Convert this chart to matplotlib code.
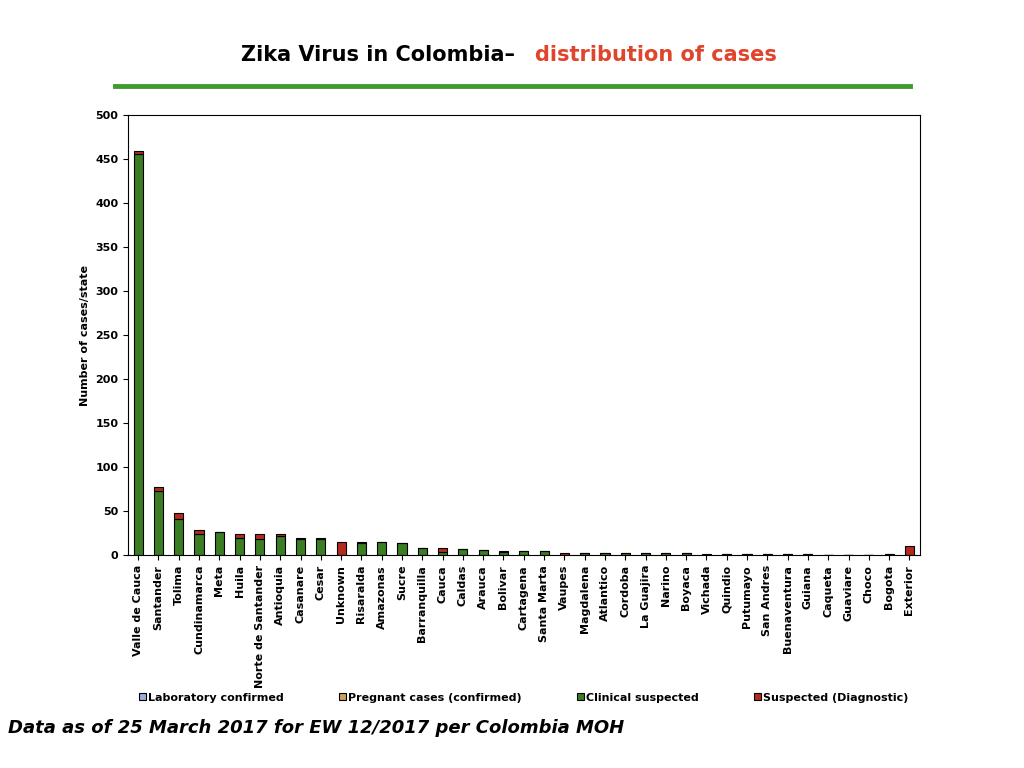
import matplotlib
matplotlib.use("Agg")
import matplotlib.pyplot as plt
import numpy as np

states = ["Valle de Cauca","Santander","Tolima","Cundinamarca","Meta","Huila","Norte de Santander",
          "Antioquia","Casanare","Cesar","Unknown","Risaralda","Amazonas","Sucre","Barranquilla","Cauca",
          "Caldas","Arauca","Bolivar","Cartagena","Santa Marta","Vaupes","Magdalena","Atlantico","Cordoba",
          "La Guajira","Narino","Boyaca","Vichada","Quindio","Putumayo","San Andres","Buenaventura","Guiana",
          "Caqueta","Guaviare","Choco","Bogota","Exterior"]
lab_confirmed = [0]*39
pregnant_confirmed = [0]*39
clinical_suspected = [456,73,41,24,26,20,19,22,18,19,0,14,15,14,8,4,7,6,4,5,5,0,3,3,3,3,3,3,0,2,2,1,1,1,0,0,0,1,0]
suspected_diag = [3,5,7,5,0,4,5,2,2,1,15,1,0,0,0,4,0,0,1,0,0,3,0,0,0,0,0,0,2,0,0,0,0,0,0,0,0,0,10]

fig = plt.figure(figsize=(10.24,7.68), dpi=100)
ax = fig.add_axes([0.125,0.277,0.773,0.573])
x = np.arange(len(states))
a = np.array(lab_confirmed); b = np.array(pregnant_confirmed)
c = np.array(clinical_suspected); d = np.array(suspected_diag)
w = 0.45
kw = dict(width=w, edgecolor="black", linewidth=0.8)
ax.bar(x, a, color="#9aaedb", label="Laboratory confirmed", **kw)
ax.bar(x, b, bottom=a, color="#c8a060", label="Pregnant cases (confirmed)", **kw)
ax.bar(x, c, bottom=a+b, color="#3a7d22", label="Clinical suspected", **kw)
ax.bar(x, d, bottom=a+b+c, color="#b52a1c", label="Suspected (Diagnostic)", **kw)
ax.set_xlim(-0.5, len(states)-0.5)
ax.set_ylim(0, 500)
ax.set_yticks(range(0, 501, 50))
ax.set_xticks(x)
ax.set_xticklabels(states, rotation=90, fontsize=8, fontweight="bold")
ax.tick_params(axis="y", labelsize=8)
for t in ax.get_yticklabels(): t.set_fontweight("bold")
ax.set_ylabel("Number of cases/state", fontsize=8, fontweight="bold")
ax.legend(loc="upper center", bbox_to_anchor=(0.5, -0.29), ncol=4, frameon=False,
          fontsize=8, prop={"weight":"bold","size":8}, handlelength=0.6, handleheight=0.6,
          columnspacing=5, handletextpad=0.2)

fig.text(0.51, 0.928, "Zika Virus in Colombia\u2013 ", ha="right", va="center", fontsize=15, fontweight="bold")
fig.text(0.522, 0.928, "distribution of cases", ha="left", va="center", fontsize=15, fontweight="bold", color="#e0452b")
fig.add_artist(plt.Line2D([0.112, 0.889], [0.888, 0.888], color="#3f9a2f", linewidth=3.5))
fig.text(0.008, 0.045, "Data as of 25 March 2017 for EW 12/2017 per Colombia MOH", fontsize=13,
         fontweight="bold", fontstyle="italic")
fig.savefig("out.png", dpi=100)
